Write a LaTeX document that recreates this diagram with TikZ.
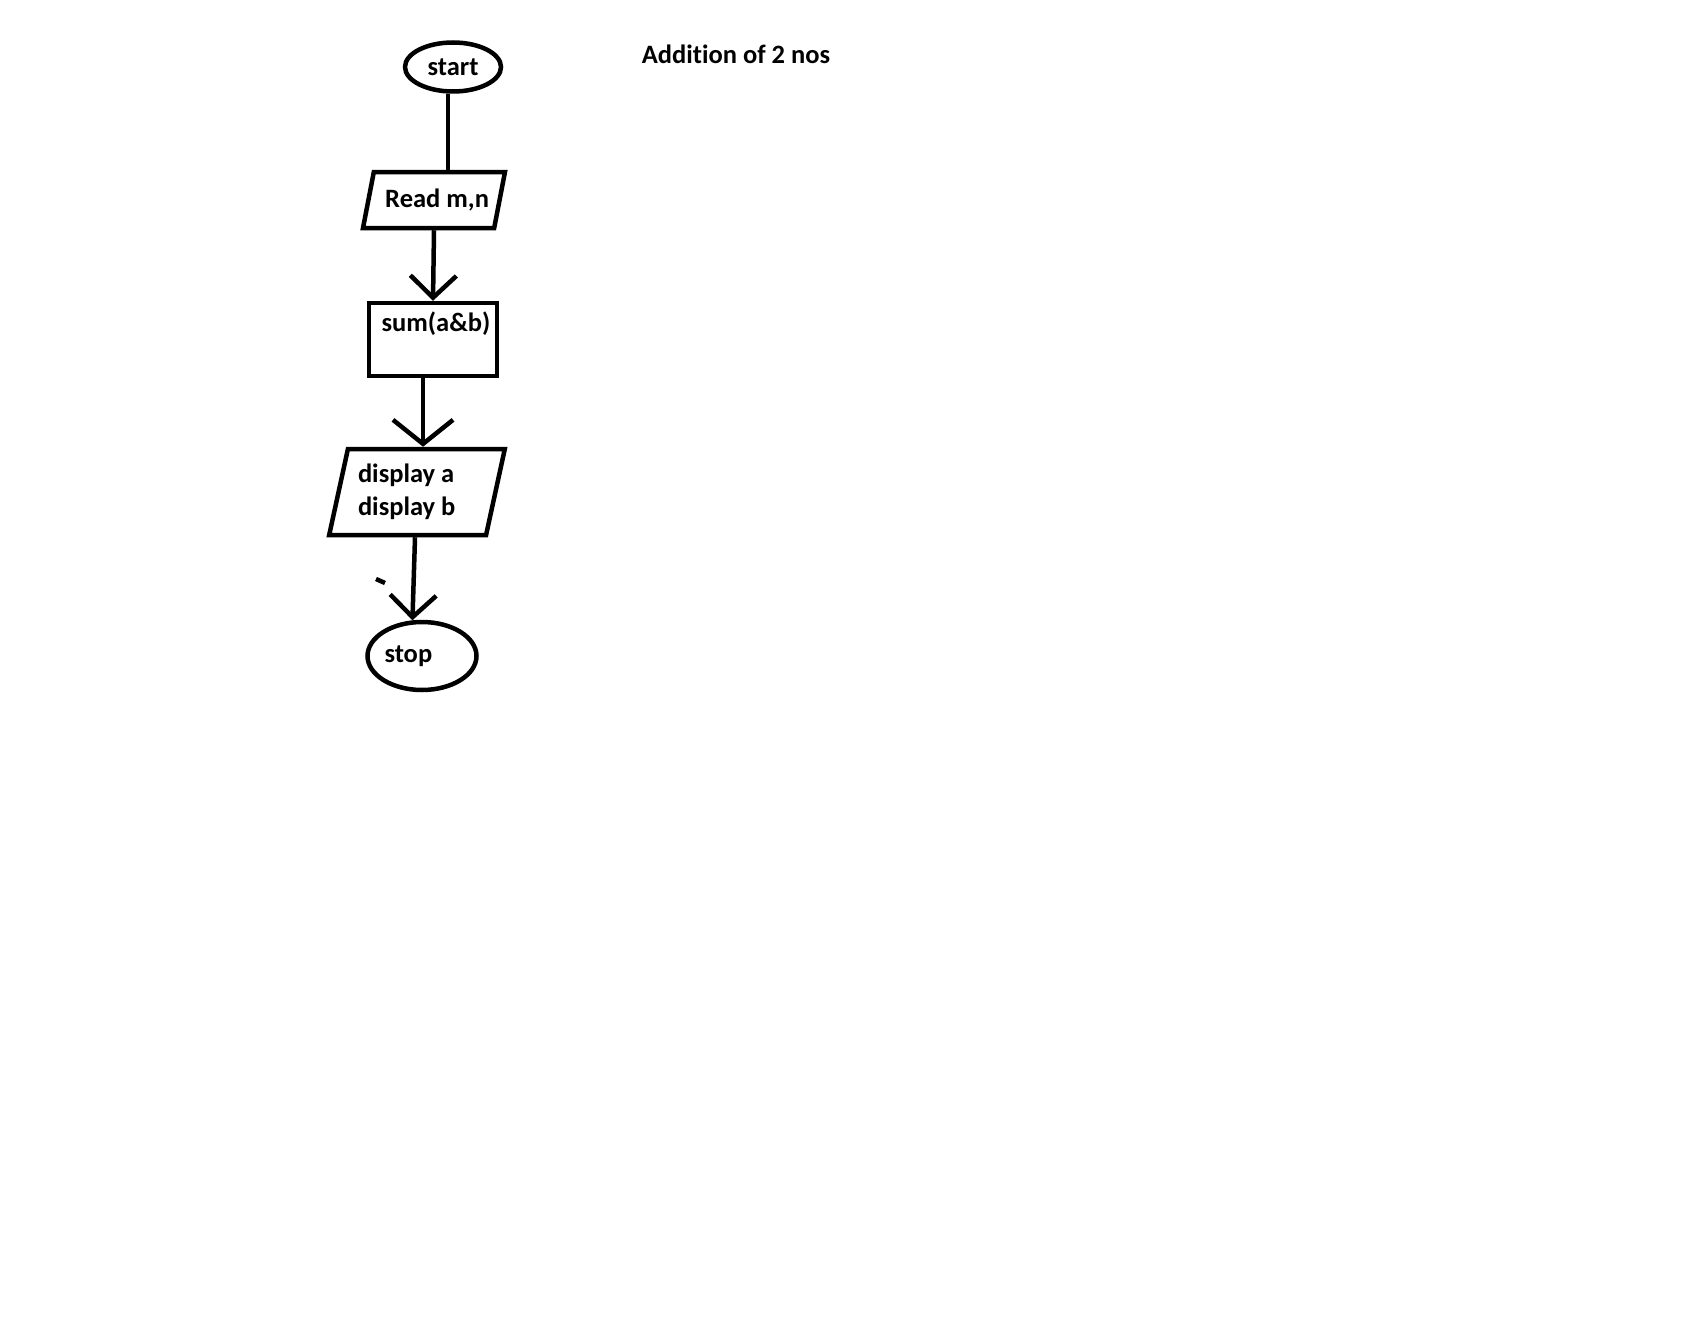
\documentclass[tikz,border=0pt]{standalone}
\usepackage{fontspec}
\setmainfont{Carlito}[Ligatures=NoCommon]
\usetikzlibrary{arrows.meta,shapes.geometric}

\begin{document}
\begin{tikzpicture}[x=1pt, y=-1pt,
    term/.style={ellipse, draw, line width=4.5pt, inner sep=0pt,
                 font=\fontsize{26.5}{30}\selectfont\bfseries},
    io/.style={trapezium, trapezium stretches=true, draw, line width=4.5pt,
               inner sep=0pt, align=flush left,
               font=\fontsize{26.5}{33}\selectfont\bfseries},
    procbox/.style={rectangle, draw, line width=4.5pt, inner sep=0pt,
                    font=\fontsize{26.5}{30}\selectfont\bfseries},
    conn/.style={line width=4.5pt},
    arr/.style={-{Straight Barb[length=22pt,width=46pt]}, line width=4.5pt}
  ]
    \fill[white] (0,0) rectangle (1689,1335);
    \useasboundingbox (0,0) rectangle (1689,1335);

    \node[font=\fontsize{26.5}{30}\selectfont\bfseries] (title) at (736,54) {Addition of 2 nos};

    \node[term, minimum width=96pt, minimum height=49pt] (start) at (453,67) {start};
    \node[io, trapezium left angle=66, trapezium right angle=114, align=flush right,
          minimum width=142pt, minimum height=56pt, text width=110pt] (read) at (434,200)
          {Read m,n};
    \node[procbox, minimum width=128pt, text height=28pt, text depth=45pt,
          text centered] (sum) at (433,339.5) {\hspace{6pt}sum(a\&b)};
    \node[io, trapezium left angle=74, trapezium right angle=106,
          minimum width=176pt, minimum height=86pt, text width=118pt] (disp) at (417,492)
          {display a\\display b};
    \node[term, minimum width=109pt, minimum height=68pt, text width=75pt,
          align=flush left] (stop) at (422,656) {stop};

    \draw[conn] ([xshift=-5pt]start.south) -- ([xshift=-5pt]start.south |- read.north);
    \draw[arr] (read.south) -- (sum.north);
    \draw[arr, -{Straight Barb[length=24pt,width=60pt]}] ([xshift=-10pt]sum.south)
      -- ([xshift=-10pt]sum.south |- disp.north);
    \draw[arr] ([xshift=-2pt]disp.south) -- (stop.105);
    % stray pen mark
    \draw[conn] (376,579) -- (385,583);
\end{tikzpicture}
\end{document}
